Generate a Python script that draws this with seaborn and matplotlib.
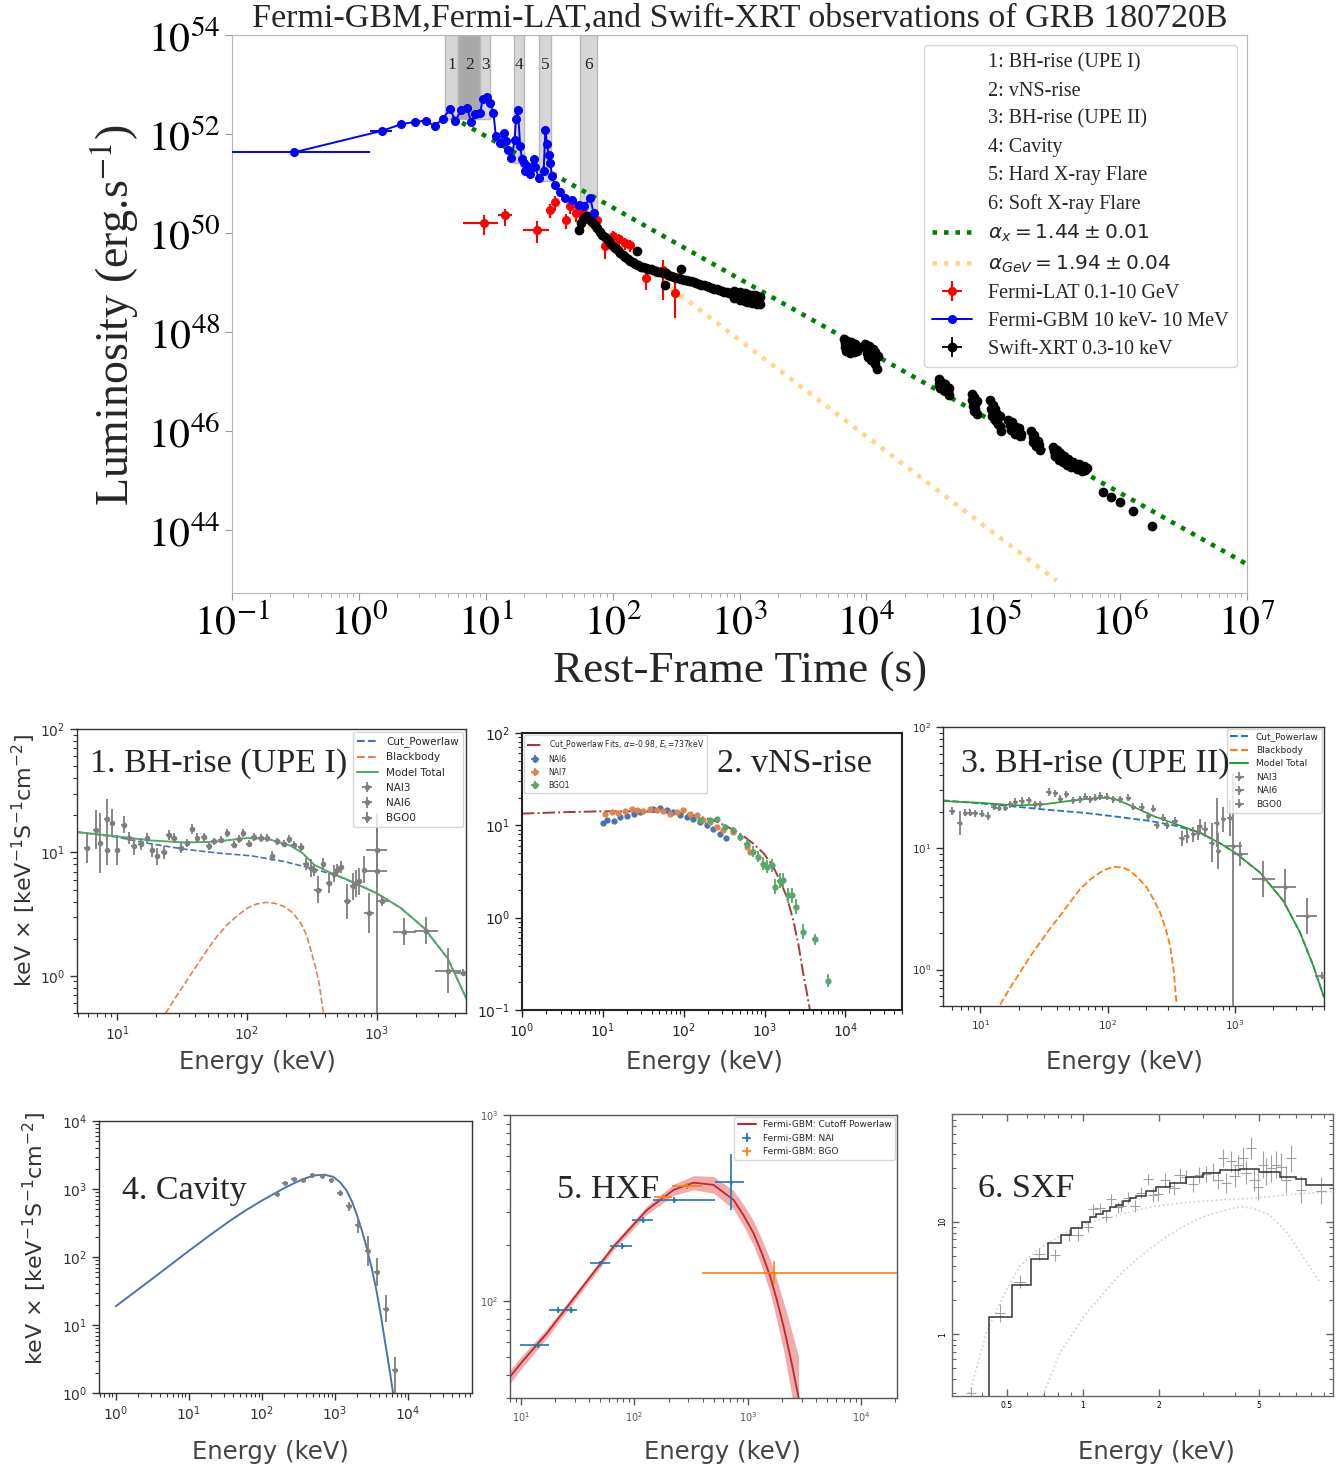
import numpy as np
import matplotlib
matplotlib.use("Agg")
import matplotlib.pyplot as plt
import seaborn as sns
from matplotlib.lines import Line2D
from matplotlib.ticker import LogLocator, NullLocator, NullFormatter

sns.set_style("ticks")
plt.rcParams["font.family"] = ["DejaVu Sans"]
SERIF = ["Liberation Serif", "DejaVu Serif"]

# ---------------- light curve (rest-frame time in s, luminosity in erg/s) ----------------
gbm_t = [0.306, 1.52, 2.16, 2.77, 3.36, 3.95, 4.60, 5.22, 5.76, 6.42, 7.11, 7.69, 8.27, 9.06,
         9.45, 10.2, 10.9, 11.5, 12.0, 12.9, 14.0, 14.4, 15.1, 15.9, 16.9, 17.3, 17.9, 18.7,
         19.3, 19.9, 20.5, 21.1, 21.8, 22.4, 23.8, 24.6, 26.1, 28.6, 29.5, 30.4, 31.3, 32.2,
         33.3, 34.9, 38.7, 42.3, 47.8, 53.9, 59.0, 66.6, 70.8]
gbm_L = [4.25e51, 1.16e52, 1.58e52, 1.76e52, 1.87e52, 1.44e52, 2.05e52, 3.22e52, 1.87e52,
         3.07e52, 3.43e52, 1.71e52, 2.52e52, 2.64e52, 5.21e52, 5.53e52, 4.20e52, 2.72e52,
         9.2e51, 6.5e51, 1.04e52, 7.1e51, 4.8e51, 3.27e51, 7.6e51, 2.0e52, 3.07e52, 5.6e51,
         3.11e51, 2.59e51, 1.76e51, 2.22e51, 1.90e51, 1.58e51, 3.11e51, 2.15e51, 1.29e51,
         1.76e51, 1.22e52, 6.4e51, 3.8e51, 2.59e51, 1.39e51, 9.5e50, 6.9e50, 5.1e50, 4.6e50,
         3.7e50, 3.46e50, 5.1e50, 2.54e50]
gbm_bin_lo = [0.05, 1.23]   # time bins of the first two GBM points
gbm_bin_hi = [1.22, 1.82]

lat_t = [9.62, 14.3, 25.5, 32.3, 35.3, 42.6, 46.3, 51.7, 57.9, 75.7, 86.9, 99.8, 113, 125, 138, 183, 250, 310]
lat_L = [1.6e50, 2.28e50, 1.17e50, 2.97e50, 4.2e50, 1.8e50, 3.6e50, 2.5e50, 2.6e50, 1.8e50,
         5.4e49, 8.9e49, 7.6e49, 6.3e49, 5.8e49, 1.24e49, 1.8e49, 6.2e48]
lat_t_lo = [6.57, 12.4, 19.6, 30.5, 33.5, 40.5, 44.0, 49.5, 55.0, 72, 82, 94, 106, 118, 130, 172, 235, 290]
lat_t_hi = [12.4, 16.1, 31.7, 34.0, 37.0, 44.8, 48.6, 54.0, 61.0, 79, 92, 106, 120, 132, 146, 195, 265, 330]
lat_dex_dn = [0.25, 0.22, 0.27, 0.17, 0.17, 0.17, 0.17, 0.17, 0.17, 0.17, 0.25, 0.15, 0.15, 0.15, 0.15, 0.25, 0.6, 0.5]
lat_dex_up = [0.17, 0.13, 0.17, 0.12, 0.12, 0.12, 0.12, 0.12, 0.12, 0.12, 0.1, 0.1, 0.1, 0.1, 0.1, 0.15, 0.2, 0.25]

# Swift-XRT, log10 values: early dense decay
xrt_log_t = [1.735, 1.75, 1.765, 1.78, 1.795, 1.81, 1.825, 1.84, 1.86, 1.88, 1.90, 1.92, 1.94, 1.96,
             1.98, 2.00, 2.02, 2.04, 2.06, 2.08, 2.10, 2.12, 2.14, 2.16, 2.18, 2.19, 2.20, 2.22,
             2.24, 2.26, 2.28, 2.30, 2.32, 2.34, 2.36, 2.38, 2.40, 2.41, 2.42, 2.44, 2.46, 2.48,
             2.50, 2.52, 2.54, 2.54, 2.56, 2.58, 2.60, 2.62, 2.64, 2.66, 2.68, 2.70, 2.72, 2.74,
             2.76, 2.78, 2.80, 2.82, 2.84, 2.86, 2.88, 2.90, 2.92, 2.94, 2.96, 2.96, 2.98, 3.00,
             3.00, 3.02, 3.04, 3.04, 3.06, 3.06, 3.08, 3.10, 3.10, 3.12, 3.12, 3.14, 3.14, 3.16, 3.16]
xrt_log_L = [50.06, 50.20, 50.28, 50.33, 50.35, 50.31, 50.27, 50.22, 50.16, 50.10, 50.03, 49.97,
             49.92, 49.85, 49.80, 49.74, 49.70, 49.65, 49.60, 49.55, 49.51, 49.47, 49.43, 49.41,
             49.37, 49.63, 49.35, 49.32, 49.31, 49.30, 49.28, 49.27, 49.25, 49.24, 49.22, 49.21,
             49.19, 48.96, 49.19, 49.16, 49.14, 49.12, 49.10, 49.09, 49.07, 49.28, 49.06, 49.05,
             49.04, 49.03, 49.02, 49.00, 48.98, 48.96, 48.95, 48.93, 48.92, 48.90, 48.88, 48.87,
             48.85, 48.83, 48.81, 48.80, 48.78, 48.77, 48.83, 48.68, 48.74, 48.80, 48.64, 48.71,
             48.78, 48.62, 48.76, 48.60, 48.68, 48.75, 48.58, 48.74, 48.58, 48.72, 48.57, 48.70, 48.56]
# Swift-XRT late orbits (log10 t, log10 L)
xrt_late = [(3.82, 47.86), (3.83, 47.78), (3.835, 47.70), (3.84, 47.62), (3.85, 47.82), (3.86, 47.74),
            (3.865, 47.66), (3.87, 47.58), (3.88, 47.80), (3.885, 47.72), (3.89, 47.64), (3.90, 47.60),
            (3.91, 47.76), (3.92, 47.68), (3.93, 47.62), (3.94, 47.70),
            (3.99, 47.76), (4.0, 47.68), (4.005, 47.58), (4.01, 47.50), (4.02, 47.72), (4.03, 47.62),
            (4.035, 47.52), (4.04, 47.44), (4.05, 47.66), (4.055, 47.56), (4.06, 47.46), (4.065, 47.36),
            (4.07, 47.60), (4.075, 47.48), (4.08, 47.25), (4.09, 47.52),
            (4.57, 47.05), (4.575, 46.95), (4.58, 46.88), (4.59, 47.0), (4.60, 46.9), (4.61, 46.82),
            (4.62, 46.95), (4.63, 46.85), (4.64, 46.78), (4.65, 46.88), (4.655, 46.72),
            (4.83, 46.75), (4.835, 46.62), (4.84, 46.5), (4.845, 46.4), (4.85, 46.68), (4.855, 46.55),
            (4.86, 46.45), (4.87, 46.6), (4.875, 46.35),
            (4.975, 46.62), (4.98, 46.45), (4.99, 46.3), (4.995, 46.52), (5.0, 46.38), (5.01, 46.25),
            (5.015, 46.45), (5.02, 46.2), (5.03, 46.35), (5.04, 46.15), (5.05, 46.3), (5.055, 46.1), (5.06, 46.0),
            (5.12, 46.22), (5.13, 46.12), (5.14, 46.02), (5.15, 46.18), (5.16, 46.05), (5.17, 45.95),
            (5.18, 46.08), (5.19, 45.98), (5.20, 46.06), (5.21, 45.9), (5.22, 45.95),
            (5.30, 46.0), (5.31, 45.88), (5.315, 45.78), (5.325, 45.92), (5.33, 45.82), (5.34, 45.7),
            (5.35, 45.8), (5.36, 45.72), (5.37, 45.62),
            (5.47, 45.68), (5.48, 45.6), (5.49, 45.5), (5.50, 45.62), (5.51, 45.52), (5.52, 45.42),
            (5.53, 45.55), (5.54, 45.45), (5.55, 45.38), (5.56, 45.5), (5.57, 45.4), (5.58, 45.32),
            (5.59, 45.44), (5.60, 45.36), (5.61, 45.28),
            (5.63, 45.38), (5.645, 45.3), (5.66, 45.24), (5.675, 45.34), (5.69, 45.26), (5.70, 45.2),
            (5.715, 45.3), (5.725, 45.22), (5.735, 45.26),
            (5.867, 44.77), (5.925, 44.66), (5.998, 44.57), (6.098, 44.39), (6.255, 44.09)]

fit_x_t = [5.42, 1.0e7]          # alpha_x = 1.44
fit_x_L = [2.19e52, 2.04e43]
fit_gev_t = [55.0, 3.16e5]       # alpha_GeV = 1.94
fit_gev_L = [1.95e50, 9.5e42]

zone_names = ["1", "2", "3", "4", "5", "6"]
zone_t0 = [4.80, 6.04, 9.06, 16.8, 26.4, 55.0]
zone_t1 = [6.04, 9.06, 10.9, 20.1, 32.8, 75.2]
zone_floor = [2.0e52, 2.0e52, 2.0e52, 2.57e51, 1.15e51, 2.34e50]
zone_labels = ["1: BH-rise (UPE I)", "2: vNS-rise", "3: BH-rise (UPE II)", "4: Cavity",
               "5: Hard X-ray Flare", "6: Soft X-ray Flare"]

# ---------------- spectra: (log10 E [keV], log10 flux, error in dex) ----------------
p1_cpl = [(0.69, 1.165), (1.0, 1.124), (1.257, 1.070), (1.515, 1.027), (1.772, 0.995), (2.03, 0.973),
          (2.287, 0.927), (2.519, 0.865), (2.673, 0.819), (2.776, 0.778), (3.0, 0.670), (3.188, 0.549),
          (3.368, 0.386), (3.548, 0.143), (3.698, -0.195)]
p1_bb = [(1.373, -0.303), (1.46, -0.16), (1.541, -0.032), (1.62, 0.095), (1.695, 0.211), (1.77, 0.32),
         (1.849, 0.414), (1.93, 0.49), (2.004, 0.549), (2.075, 0.582), (2.145, 0.595), (2.215, 0.588),
         (2.287, 0.562), (2.355, 0.51), (2.416, 0.427), (2.46, 0.33), (2.493, 0.211), (2.527, 0.08),
         (2.557, -0.059), (2.591, -0.303)]
p1_tot = [(0.69, 1.165), (1.0, 1.130), (1.257, 1.097), (1.515, 1.081), (1.746, 1.086), (2.0, 1.116),
          (2.158, 1.111), (2.338, 1.054), (2.429, 0.995), (2.519, 0.900), (2.622, 0.846), (2.776, 0.778),
          (3.0, 0.670), (3.188, 0.549), (3.368, 0.386), (3.548, 0.143), (3.698, -0.195)]
p1_nai3 = [(0.768, 1.035, .12), (0.871, 1.076, .24), (0.923, 1.022, .12), (1.0, 1.022, .12), (1.090, 1.116, .05),
           (1.180, 1.070, .05), (1.270, 1.016, .05), (1.360, 1.000, .05), (1.438, 1.116, .04), (1.541, 1.076, .03),
           (1.618, 1.116, .04), (1.708, 1.049, .03), (1.798, 1.103, .03), (1.901, 1.062, .03), (1.973, 1.157, .03),
           (2.055, 1.124, .03), (2.158, 1.116, .03), (2.236, 1.089, .03), (2.326, 1.108, .03), (2.416, 1.043, .03),
           (2.493, 0.873, .07), (2.634, 0.751, .08), (2.699, 0.859, .05), (2.840, 0.751, .11), (2.905, 0.859, .11)]
p1_nai6 = [(0.833, 1.184, .16), (0.918, 1.270, .16), (0.961, 1.238, .11), (1.051, 1.224, .07), (1.129, 1.049, .07),
           (1.232, 1.116, .04), (1.309, 0.968, .07), (1.399, 1.143, .04), (1.489, 1.035, .04), (1.579, 1.189, .04),
           (1.669, 1.124, .03), (1.746, 1.089, .03), (1.849, 1.157, .03), (1.940, 1.108, .03), (2.017, 1.070, .03),
           (2.107, 1.116, .03), (2.197, 0.973, .04), (2.287, 1.070, .03), (2.364, 1.062, .03), (2.454, 0.908, .05),
           (2.519, 0.859, .05), (2.591, 0.908, .05), (2.673, 0.827, .07), (2.725, 0.881, .05), (2.815, 0.724, .11),
           (2.866, 0.765, .11)]
p1_bgo0 = [(2.550, 0.697, .11), (2.776, 0.603, .14), (2.943, 0.508, .16), (3.0, 0.846, .45), (3.0, 1.022, .3),
           (3.046, 0.603, .04), (3.214, 0.359, .11), (3.381, 0.367, .11), (3.548, 0.043, .18), (3.664, 0.027, .03)]
p1_bgo0_dE = [0.03, 0.03, 0.04, 0.08, 0.08, 0.05, 0.09, 0.09, 0.10, 0.06]

p2_fit = [(0.0, 1.127), (0.5, 1.142), (1.0, 1.152), (1.5, 1.152), (2.0, 1.127), (2.2, 1.095), (2.366, 1.055),
          (2.53, 0.99), (2.695, 0.911), (2.85, 0.81), (2.99, 0.695), (3.10, 0.56), (3.19, 0.406), (3.28, 0.21),
          (3.354, -0.027), (3.42, -0.30), (3.477, -0.604), (3.52, -0.80), (3.56, -1.0)]
p2_nai6 = [(1.0, 1.026), (1.049, 1.055), (1.132, 1.044), (1.214, 1.091), (1.296, 1.098), (1.379, 1.120),
           (1.461, 1.145), (1.626, 1.181), (1.708, 1.192), (1.790, 1.171), (1.872, 1.145), (1.955, 1.109),
           (2.037, 1.091), (2.119, 1.073), (2.202, 1.037), (2.284, 1.001), (2.366, 0.965), (2.449, 0.911),
           (2.523, 0.868)]
p2_nai7 = [(1.029, 1.127), (1.111, 1.145), (1.193, 1.134), (1.276, 1.156), (1.358, 1.181), (1.420, 1.163),
           (1.502, 1.156), (1.584, 1.181), (1.667, 1.163), (1.749, 1.156), (1.831, 1.127), (1.914, 1.145),
           (1.996, 1.163), (2.078, 1.127), (2.160, 1.109), (2.243, 1.055), (2.325, 1.037), (2.407, 0.983),
           (2.490, 0.947), (2.613, 0.929), (2.778, 0.767), (2.819, 0.713)]
p2_bgo1 = [(2.202, 1.055, .02), (2.325, 1.062, .02), (2.407, 1.073, .02), (2.510, 0.983, .03), (2.613, 0.947, .03),
           (2.695, 0.875, .04), (2.778, 0.803, .05), (2.860, 0.713, .06), (2.922, 0.658, .06), (2.984, 0.586, .07),
           (3.025, 0.550, .07), (3.086, 0.568, .07), (3.128, 0.334, .08), (3.189, 0.399, .08), (3.230, 0.406, .08),
           (3.292, 0.244, .08), (3.333, 0.244, .08), (3.387, 0.118, .08), (3.477, -0.153, .08), (3.621, -0.236, .06),
           (3.786, -0.683, .07)]

p3_cpl = [(0.707, 1.395), (1.0, 1.370), (1.288, 1.342), (1.549, 1.315), (1.810, 1.293), (2.072, 1.260),
          (2.333, 1.225), (2.542, 1.184), (2.647, 1.151), (2.725, 1.129), (2.882, 1.041), (3.0, 0.964),
          (3.196, 0.800), (3.379, 0.567), (3.510, 0.307), (3.614, 0.033), (3.698, -0.227)]
p3_bb = [(1.157, -0.290), (1.235, -0.15), (1.314, -0.022), (1.39, 0.105), (1.471, 0.225), (1.55, 0.34),
         (1.627, 0.444), (1.705, 0.555), (1.784, 0.663), (1.86, 0.74), (1.941, 0.800), (2.0, 0.832),
         (2.059, 0.847), (2.12, 0.84), (2.176, 0.814), (2.24, 0.755), (2.307, 0.677), (2.36, 0.58),
         (2.412, 0.471), (2.455, 0.34), (2.490, 0.197), (2.518, 0.0), (2.542, -0.290)]
p3_tot = [(0.707, 1.389), (1.0, 1.375), (1.288, 1.353), (1.497, 1.362), (1.732, 1.395), (1.941, 1.416),
          (2.046, 1.411), (2.203, 1.342), (2.359, 1.266), (2.542, 1.197), (2.725, 1.129), (2.882, 1.041),
          (3.0, 0.964), (3.196, 0.800), (3.379, 0.567), (3.510, 0.307), (3.614, 0.033), (3.698, -0.227)]
p3_nai3 = [(0.778, 1.307, .03), (0.882, 1.293, .03), (0.961, 1.288, .03), (1.058, 1.266, .03), (1.144, 1.334, .03),
           (1.235, 1.362, .03), (1.327, 1.389, .03), (1.431, 1.362, .03), (1.536, 1.463, .03), (1.627, 1.408, .03),
           (1.732, 1.395, .03), (1.824, 1.425, .03), (1.902, 1.417, .03), (1.993, 1.425, .03), (2.098, 1.403, .03),
           (2.203, 1.343, .03), (2.359, 1.326, .03), (2.386, 1.189, .03), (2.529, 1.225, .03), (2.621, 1.101, .06),
           (2.712, 1.129, .06), (2.817, 1.047, .16), (2.869, 0.978, .15)]
p3_nai6 = [(0.838, 1.206, .10), (0.922, 1.293, .03), (1.013, 1.285, .03), (1.105, 1.343, .03), (1.196, 1.334, .03),
           (1.275, 1.381, .03), (1.379, 1.395, .03), (1.471, 1.362, .03), (1.588, 1.452, .03), (1.675, 1.444, .03),
           (1.784, 1.403, .03), (1.863, 1.403, .03), (1.941, 1.430, .03), (2.046, 1.403, .03), (2.163, 1.417, .03),
           (2.268, 1.343, .03), (2.320, 1.266, .03), (2.438, 1.252, .03), (2.464, 1.189, .03), (2.582, 1.082, .06),
           (2.673, 1.115, .06), (2.725, 1.184, .06), (2.765, 1.156, .06), (2.856, 1.211, .2), (2.908, 1.238, .1),
           (2.961, 1.252, .15)]
p3_bgo0 = [(2.987, 1.019, .6), (3.039, 0.951, .1), (3.222, 0.745, .15), (3.392, 0.677, .15), (3.562, 0.439, .15),
           (3.68, -0.05, .03)]
p3_bgo0_dE = [0.07, 0.06, 0.09, 0.09, 0.08, 0.05]

p4_fit = [(0.0, 1.275), (0.5, 1.68), (1.0, 2.09), (1.3, 2.33), (1.6, 2.56), (1.8, 2.70), (2.0, 2.83),
          (2.15, 2.92), (2.3, 3.01), (2.45, 3.09), (2.6, 3.16), (2.72, 3.20), (2.85, 3.21), (2.975, 3.18),
          (3.07, 3.10), (3.157, 2.98), (3.23, 2.82), (3.294, 2.64), (3.36, 2.42), (3.431, 2.15),
          (3.50, 1.85), (3.567, 1.51), (3.625, 1.16), (3.681, 0.78), (3.74, 0.39), (3.795, 0.0)]
p4_data = [(2.200, 2.922, .02), (2.314, 3.088, .02), (2.437, 3.147, .02), (2.565, 3.137, .02), (2.692, 3.211, .02),
           (2.829, 3.196, .02), (2.952, 3.128, .02), (3.066, 2.941, .05), (3.194, 2.745, .07), (3.317, 2.466, .12),
           (3.453, 2.088, .22), (3.576, 1.779, .2), (3.704, 1.240, .2), (3.827, 0.343, .18)]

p5_fit = [(0.906, 1.593), (1.0, 1.665), (1.229, 1.826), (1.523, 2.059), (1.817, 2.292), (2.111, 2.489),
          (2.346, 2.597), (2.522, 2.636), (2.698, 2.624), (2.875, 2.543), (2.963, 2.46), (3.051, 2.364),
          (3.125, 2.255), (3.198, 2.131), (3.257, 2.003), (3.316, 1.862), (3.382, 1.68), (3.448, 1.480)]
p5_band_dex = [0.036, 0.033, 0.025, 0.02, 0.018, 0.022, 0.03, 0.038, 0.045, 0.05, 0.057, 0.065, 0.075,
               0.09, 0.11, 0.13, 0.17, 0.22]
p5_nai = [(1.147, 1.763, 0.994, 1.244, .015), (1.326, 1.952, 1.244, 1.406, .015), (1.441, 1.952, 1.406, 1.494, .015),
          (1.699, 2.202, 1.611, 1.788, .015), (1.890, 2.296, 1.788, 1.979, .015), (2.073, 2.435, 1.979, 2.164, .015),
          (2.346, 2.543, 2.164, 2.713, .015), (2.851, 2.641, 2.713, 2.963, .15)]
p5_bgo = [(2.252, 2.561, 2.170, 2.331, .015), (2.463, 2.618, 2.331, 2.596, .015), (3.227, 2.152, 2.596, 4.321, .06)]

p6_edges = [0.30, 0.423, 0.525, 0.624, 0.726, 0.820, 0.899, 0.991, 1.069, 1.129, 1.200, 1.276, 1.356, 1.441,
            1.531, 1.627, 1.782, 1.952, 2.205, 2.568, 2.990, 3.482, 4.18, 5.01, 6.02, 7.0, 7.67, 9.79]
p6_model = [0.2, 1.42, 2.74, 4.63, 6.43, 7.62, 8.73, 10.0, 10.9, 11.7, 12.5, 13.4, 14.1, 15.1, 16.1, 16.9,
            18.5, 20.2, 22.2, 24.8, 26.9, 28.8, 29.4, 27.8, 25.1, 23.8, 21.2]
p6_pl = [(-0.449, -0.524), (-0.383, 0.009), (-0.317, 0.334), (-0.251, 0.601), (-0.185, 0.74), (-0.119, 0.837),
         (-0.06, 0.91), (0.0, 0.970), (0.07, 1.02), (0.145, 1.059), (0.21, 1.10), (0.277, 1.133), (0.410, 1.169),
         (0.542, 1.192), (0.674, 1.207), (0.806, 1.237), (0.938, 1.260), (0.991, 1.266)]
p6_bb = [(-0.159, -0.547), (-0.092, -0.168), (-0.04, 0.01), (0.013, 0.187), (0.08, 0.36), (0.145, 0.527),
         (0.21, 0.66), (0.277, 0.778), (0.34, 0.88), (0.410, 0.970), (0.475, 1.04), (0.542, 1.089),
         (0.621, 1.133), (0.674, 1.118), (0.740, 1.059), (0.806, 0.911), (0.872, 0.689), (0.938, 0.467)]
p6_data = [(-0.443, -0.518, .05), (-0.330, 0.187, .08), (-0.251, 0.468, .06), (-0.172, 0.713, .05),
           (-0.112, 0.704, .05), (-0.055, 0.882, .05), (-0.020, 0.882, .05), (0.020, 0.956, .05),
           (0.040, 1.110, .05), (0.066, 1.118, .05), (0.093, 1.044, .05), (0.112, 1.198, .05),
           (0.139, 1.127, .05), (0.152, 1.139, .05), (0.178, 1.213, .05), (0.205, 1.139, .05),
           (0.231, 1.258, .05), (0.258, 1.376, .05), (0.277, 1.237, .06), (0.297, 1.246, .06),
           (0.324, 1.370, .06), (0.343, 1.317, .06), (0.363, 1.296, .06), (0.383, 1.414, .06),
           (0.410, 1.394, .06), (0.436, 1.334, .07), (0.462, 1.411, .07), (0.489, 1.423, .07),
           (0.515, 1.444, .08), (0.535, 1.370, .08), (0.555, 1.562, .08), (0.568, 1.340, .09),
           (0.588, 1.533, .09), (0.601, 1.400, .09), (0.614, 1.503, .09), (0.634, 1.562, .1),
           (0.647, 1.435, .1), (0.667, 1.651, .1), (0.680, 1.370, .1), (0.694, 1.311, .12),
           (0.713, 1.503, .12), (0.727, 1.444, .12), (0.746, 1.473, .12), (0.766, 1.503, .12),
           (0.786, 1.488, .12), (0.806, 1.370, .12), (0.826, 1.562, .12), (0.865, 1.281, .12),
           (0.945, 1.275, .12)]

W, H = 1339, 1470
fig = plt.figure(figsize=(W / 100, H / 100), dpi=100)


def px_axes(l, t, r, b):
    return fig.add_axes([l / W, 1 - b / H, (r - l) / W, (b - t) / H])


def dex_err(v, dn, up=None):
    v = np.asarray(v, float)
    dn = np.asarray(dn, float)
    up = dn if up is None else np.asarray(up, float)
    return np.array([v - v * 10 ** -dn, v * 10 ** up - v]) * np.ones_like(v)


def curve(ax, pts, **kw):
    pts = np.array(pts)
    sns.lineplot(x=10 ** pts[:, 0], y=10 ** pts[:, 1], ax=ax, sort=False, estimator=None, **kw)


def spec_points(ax, pts, color, dE=0.02, ms=3, lw=1.3):
    pts = np.array(pts)
    E, F = 10 ** pts[:, 0], 10 ** pts[:, 1]
    return ax.errorbar(E, F, yerr=dex_err(F, pts[:, 2]), xerr=dex_err(E, dE), fmt="o", ms=ms,
                       color=color, elinewidth=lw, capsize=0, zorder=3)


def style_panel(ax, xlim, ylim, size, color="#333333", direction="out", lw=1.0):
    ax.set_xscale("log")
    ax.set_yscale("log")
    ax.set_xlim(*xlim)
    ax.set_ylim(*ylim)
    ax.tick_params(which="both", direction=direction, colors=color, labelsize=size)
    ax.tick_params(which="major", length=5, width=1)
    ax.tick_params(which="minor", length=3, width=0.8)
    for s in ax.spines.values():
        s.set_color(color)
        s.set_linewidth(lw)


# ================= top: light curve =================
ax = px_axes(232, 35, 1247, 593)
ax.set_xscale("log")
ax.set_yscale("log")
ax.set_xlim(0.1, 1e7)
ax.set_ylim(10 ** 42.73, 1e54)

for i, name in enumerate(zone_names):
    shade = "#a9a9a9" if name == "2" else "#d6d6d6"
    ax.fill_between([zone_t0[i], zone_t1[i]], zone_floor[i], 1e54, facecolor=shade,
                    edgecolor="#b8b8b8", lw=1, zorder=1)
    ax.text(np.sqrt(zone_t0[i] * zone_t1[i]), 10 ** 53.4, name, ha="center", va="center",
            fontsize=12.5, family=SERIF, zorder=2)

dots = (0, (1, 1.5))
sns.lineplot(x=fit_x_t, y=fit_x_L, ax=ax, color="green", lw=3.3, linestyle=dots, zorder=3)
sns.lineplot(x=fit_gev_t, y=fit_gev_L, ax=ax, color="orange", alpha=0.45, lw=3.3, linestyle=dots, zorder=3)

lat_c = ax.errorbar(lat_t, lat_L,
                    xerr=[np.array(lat_t) - np.array(lat_t_lo), np.array(lat_t_hi) - np.array(lat_t)],
                    yerr=dex_err(lat_L, lat_dex_dn, lat_dex_up), fmt="o", ms=5.5, color="red",
                    elinewidth=1.5, capsize=0, zorder=4)

late = np.array(xrt_late)
xrt_t = 10 ** np.concatenate([xrt_log_t, late[:, 0]])
xrt_L = 10 ** np.concatenate([xrt_log_L, late[:, 1]])
xrt_c = ax.errorbar(xrt_t, xrt_L, xerr=dex_err(xrt_t, 0.012), yerr=dex_err(xrt_L, 0.08), fmt="o", ms=6,
                    color="black", elinewidth=1.3, capsize=0, zorder=4.5)

gbm_xlo = np.zeros(len(gbm_t))
gbm_xhi = np.zeros(len(gbm_t))
gbm_xlo[:2] = np.array(gbm_t[:2]) - np.array(gbm_bin_lo)
gbm_xhi[:2] = np.array(gbm_bin_hi) - np.array(gbm_t[:2])
gbm_c = ax.errorbar(gbm_t, gbm_L, xerr=[gbm_xlo, gbm_xhi], fmt="-o", ms=5.5, color="#0000ff", lw=1.4,
                    elinewidth=1.4, capsize=0, zorder=5)

xt = [10.0 ** k for k in range(-1, 8)]
ax.set_xticks(xt, [f"$10^{{{k}}}$" for k in range(-1, 8)], fontsize=30, math_fontfamily="stix")
yt = [10.0 ** k for k in range(44, 55, 2)]
ax.set_yticks(yt, [f"$10^{{{k}}}$" for k in range(44, 55, 2)], fontsize=30, math_fontfamily="stix")
ax.xaxis.set_minor_locator(LogLocator(base=10, subs=np.arange(2, 10), numticks=100))
ax.xaxis.set_minor_formatter(NullFormatter())
ax.yaxis.set_minor_locator(NullLocator())
ax.tick_params(which="both", color="#999999", labelcolor="black")
ax.tick_params(axis="x", which="major", length=5, pad=1)
ax.tick_params(axis="x", which="minor", length=3)
ax.tick_params(axis="y", which="major", length=5, pad=3)
for s in ax.spines.values():
    s.set_color("#b5b5b5")

blank = [Line2D([], [], color="none") for _ in zone_labels]
h_x = Line2D([], [], color="green", lw=3.3, linestyle=dots)
h_g = Line2D([], [], color="orange", alpha=0.45, lw=3.3, linestyle=dots)
leg = ax.legend(blank + [h_x, h_g, lat_c, gbm_c, xrt_c],
                zone_labels + [r"$\alpha_x = 1.44 \pm 0.01$", r"$\alpha_{GeV} = 1.94 \pm 0.04$",
                               "Fermi-LAT 0.1-10 GeV", "Fermi-GBM 10 keV- 10 MeV", "Swift-XRT 0.3-10 keV"],
                loc="upper right", prop={"family": SERIF, "size": 14.5}, labelspacing=0.45)

fig.text(740 / W, 1 - 18 / H, "Fermi-GBM,Fermi-LAT,and Swift-XRT observations of GRB 180720B",
         ha="center", va="center", fontsize=24.5, family=SERIF)
fig.text(740 / W, 1 - 672 / H, "Rest-Frame Time (s)", ha="center", va="center", fontsize=32.5, family=SERIF)
fig.text(115 / W, 1 - 315 / H, r"Luminosity (erg.s$^{-1}$)", ha="center", va="center", rotation=90,
         fontsize=33, family=SERIF, math_fontfamily="stix")

# ================= panel 1 =================
a1 = px_axes(77, 729, 466, 1013)
style_panel(a1, (4.9, 4900), (0.5, 100), 10)
curve(a1, p1_cpl, color="#4C72B0", linestyle="--", lw=1.2)
curve(a1, p1_bb, color="#DD8452", linestyle="--", lw=1.2)
curve(a1, p1_tot, color="#55A868", lw=1.4)
c13 = spec_points(a1, p1_nai3, "#7f7f7f")
c16 = spec_points(a1, p1_nai6, "#7f7f7f")
p1b = np.array(p1_bgo0)
E1, F1 = 10 ** p1b[:, 0], 10 ** p1b[:, 1]
dn1 = np.where(p1b[:, 2] > 0.4, 1.5, p1b[:, 2])
c1b = a1.errorbar(E1, F1, yerr=dex_err(F1, dn1, p1b[:, 2]), xerr=dex_err(E1, p1_bgo0_dE), fmt="o", ms=3,
                  color="#7f7f7f", elinewidth=1.3, capsize=0, zorder=3)
a1.legend([Line2D([], [], color="#4C72B0", ls="--"), Line2D([], [], color="#DD8452", ls="--"),
           Line2D([], [], color="#55A868"), c13, c16, c1b],
          ["Cut_Powerlaw", "Blackbody", "Model Total", "NAI3", "NAI6", "BGO0"],
          loc="upper right", fontsize=7.5, borderaxespad=0.3)
fig.text(90 / W, 1 - 772 / H, "1. BH-rise (UPE I)", fontsize=24.5, family=SERIF, va="baseline")

# ================= panel 2 =================
a2 = px_axes(522, 733, 902, 1010)
style_panel(a2, (1, 5e4), (0.1, 100), 10, color="#222222", lw=1.5)
curve(a2, p2_fit, color="#A83A3A", linestyle="-.", lw=1.4)
c26 = spec_points(a2, [p + (.02,) for p in p2_nai6], "#4C72B0", ms=3.5)
c27 = spec_points(a2, [p + (.02,) for p in p2_nai7], "#DD8452", ms=3.5)
c2b = spec_points(a2, p2_bgo1, "#55A868", dE=0.03, ms=3.5)
a2.legend([Line2D([], [], color="#A83A3A", ls="-."), c26, c27, c2b],
          [r"Cut_Powerlaw Fits, $\alpha$=-0.98, $E_{\rm c}$=737keV", "NAI6", "NAI7", "BGO1"],
          loc="upper left", fontsize=5.5, borderaxespad=0.3)
fig.text(717 / W, 1 - 772 / H, "2. vNS-rise", fontsize=24.5, family=SERIF, va="baseline")

# ================= panel 3 =================
a3 = px_axes(943, 727, 1324, 1006)
style_panel(a3, (5.1, 5000), (0.5, 100), 7.5)
curve(a3, p3_cpl, color="#1f77b4", linestyle="--", lw=1.3)
curve(a3, p3_bb, color="#ff7f0e", linestyle="--", lw=1.3)
curve(a3, p3_tot, color="#2ca02c", lw=1.2)
c33 = spec_points(a3, p3_nai3, "#7f7f7f", ms=2)
c36 = spec_points(a3, p3_nai6, "#7f7f7f", ms=2)
p3b = np.array(p3_bgo0)
E3, F3 = 10 ** p3b[:, 0], 10 ** p3b[:, 1]
dn3 = np.where(p3b[:, 2] > 0.4, 1.5, p3b[:, 2])
c3b = a3.errorbar(E3, F3, yerr=dex_err(F3, dn3, p3b[:, 2]), xerr=dex_err(E3, p3_bgo0_dE), fmt="o", ms=2,
                  color="#7f7f7f", elinewidth=1.3, capsize=0, zorder=3)
a3.legend([Line2D([], [], color="#1f77b4", ls="--"), Line2D([], [], color="#ff7f0e", ls="--"),
           Line2D([], [], color="#2ca02c"), c33, c36, c3b],
          ["Cut_Powerlaw", "Blackbody", "Model Total", "NAI3", "NAI6", "BGO0"],
          loc="upper right", fontsize=6.5, borderaxespad=0.2)
fig.text(961 / W, 1 - 772 / H, "3. BH-rise (UPE II)", fontsize=24.5, family=SERIF, va="baseline")

# ================= panel 4 =================
a4 = px_axes(99, 1121, 472, 1393)
style_panel(a4, (0.59, 7.5e4), (1, 1e4), 10)
a4.yaxis.set_minor_locator(LogLocator(base=10, subs=np.arange(2, 10), numticks=100))
curve(a4, p4_fit, color="#4C72B0", lw=1.4)
p4 = np.array(p4_data)
E4, F4 = 10 ** p4[:, 0], 10 ** p4[:, 1]
dn4 = p4[:, 2].copy()
dn4[-1] = 1.0
a4.errorbar(E4, F4, yerr=dex_err(F4, dn4, p4[:, 2]), xerr=dex_err(E4, 0.04), fmt="o", ms=2.5,
            color="#7f7f7f", elinewidth=1.3, capsize=0, zorder=3)
fig.text(122 / W, 1 - 1199 / H, "4. Cavity", fontsize=24.5, family=SERIF, va="baseline")

# ================= panel 5 =================
a5 = px_axes(510, 1115, 897, 1398)
style_panel(a5, (8, 2.07e4), (30, 1000), 7, color="#555555")
f5 = np.array(p5_fit)
E5, F5 = 10 ** f5[:, 0], 10 ** f5[:, 1]
a5.fill_between(E5, F5 * 10 ** -np.array(p5_band_dex), F5 * 10 ** np.array(p5_band_dex),
                color="#d62728", alpha=0.38, lw=0, zorder=1)
curve(a5, p5_fit, color="#c0282a", lw=1.3)
hand5 = []
for pts, col in [(p5_nai, "#1f77b4"), (p5_bgo, "#ff7f0e")]:
    pts = np.array(pts)
    E, F = 10 ** pts[:, 0], 10 ** pts[:, 1]
    hand5.append(a5.errorbar(E, F, yerr=dex_err(F, pts[:, 4]),
                             xerr=[E - 10 ** pts[:, 2], 10 ** pts[:, 3] - E], fmt="+", ms=3,
                             color=col, elinewidth=1.2, capsize=0, zorder=3))
a5.legend([Line2D([], [], color="#c0282a")] + hand5,
          ["Fermi-GBM: Cutoff Powerlaw", "Fermi-GBM: NAI", "Fermi-GBM: BGO"],
          loc="upper right", fontsize=6.5, borderaxespad=0.2)
fig.text(557 / W, 1 - 1198 / H, "5. HXF", fontsize=24.5, family=SERIF, va="baseline")

# ================= panel 6 =================
a6 = px_axes(952, 1114, 1333, 1396)
style_panel(a6, (0.303, 9.8), (0.284, 90), 5.5, color="#666666", direction="in")
a6.tick_params(which="both", top=True, right=True, labelcolor="black")
a6.set_xticks([0.5, 1, 2, 5], ["0.5", "1", "2", "5"])
a6.set_yticks([1, 10], ["1", "10"], rotation=90, va="center")
a6.xaxis.set_minor_formatter(NullFormatter())
a6.yaxis.set_minor_formatter(NullFormatter())
curve(a6, p6_pl, color="#d0d0d0", linestyle=":", lw=1.2)
curve(a6, p6_bb, color="#d0d0d0", linestyle=":", lw=1.2)
p6 = np.array(p6_data)
E6, F6 = 10 ** p6[:, 0], 10 ** p6[:, 1]
a6.errorbar(E6, F6, yerr=dex_err(F6, p6[:, 2]), xerr=dex_err(E6, 0.02), fmt="none",
            ecolor="#a0a0a0", elinewidth=0.8, capsize=0, zorder=2)
a6.stairs(p6_model, p6_edges, color="#333333", lw=1.1, baseline=None, zorder=3)
fig.text(978 / W, 1 - 1197 / H, "6. SXF", fontsize=24.5, family=SERIF, va="baseline")

# ================= shared axis labels =================
for xc, yc in [(257, 1062), (704, 1062), (1124, 1062), (270, 1452), (722, 1452), (1156, 1452)]:
    fig.text(xc / W, 1 - yc / H, "Energy (keV)", ha="center", va="center", fontsize=17.5, color="#444444")
ylab = r"keV $\times$ [keV$^{-1}$S$^{-1}$cm$^{-2}$]"
fig.text(24 / W, 1 - 860 / H, ylab, ha="center", va="center", rotation=90, fontsize=16, color="#333333")
fig.text(35 / W, 1 - 1238 / H, ylab, ha="center", va="center", rotation=90, fontsize=16, color="#333333")

fig.savefig("out.png", dpi=100)
